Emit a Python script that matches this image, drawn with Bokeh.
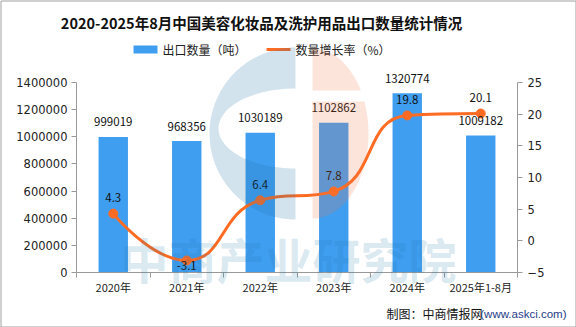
import math
import numpy as np
from bokeh.plotting import figure
from bokeh.models import Range1d, LinearAxis, FixedTicker, ColumnDataSource, BasicTickFormatter
from bokeh.core.properties import value
from bokeh.embed import file_html
from bokeh.resources import INLINE

# ---------------- data ----------------
categories = ["2020年", "2021年", "2022年", "2023年", "2024年", "2025年1-8月"]
export_volume = [999019, 968356, 1030189, 1102862, 1320774, 1009182]
growth_rate = [4.3, -3.1, 6.4, 7.8, 19.8, 20.1]
left_ticks = [0, 200000, 400000, 600000, 800000, 1000000, 1200000, 1400000]
right_ticks = [-5, 0, 5, 10, 15, 20, 25]

title_text = "2020-2025年8月中国美容化妆品及洗护用品出口数量统计情况"
bar_legend = "出口数量（吨）"
line_legend = "数量增长率（%）"
source_text = "制图：中商情报网"
source_url = "(www.askci.com)"
watermark_text = "中商产业研究院"

# ---------------- layout ----------------
W, H = 576, 327
FL, FR, FT, FB = 76, 517, 82, 272
BAR_COLOR = "#409ef0"
LINE_COLOR = "#ff6b22"
CJK = "Noto Sans CJK SC"
AX_COLOR = "#999999"
TXT_COLOR = "#222222"

n = len(categories)
xc = [i + 0.5 for i in range(n)]

p = figure(width=W, height=H, output_backend="svg", toolbar_location=None,
           x_range=Range1d(0, n), y_range=Range1d(left_ticks[0], left_ticks[-1]),
           min_border_left=FL, min_border_right=W - FR, min_border_top=FT,
           min_border_bottom=H - FB, title=None)
p.outline_line_color = None
p.xgrid.visible = False
p.ygrid.visible = False
p.background_fill_color = "white"
p.border_fill_color = "white"
p.extra_y_ranges = {"rate": Range1d(right_ticks[0], right_ticks[-1])}

px_per_x = (FR - FL) / n
lpx = (FB - FT) / (left_ticks[-1] - left_ticks[0])      # px per left unit
rpx = (FB - FT) / (right_ticks[-1] - right_ticks[0])    # px per right unit


def to_data(sx, sy):
    """canvas pixel -> (x, left-y) data coordinates"""
    return ((np.asarray(sx, dtype=float) - FL) / px_per_x,
            (FB - np.asarray(sy, dtype=float)) / lpx + left_ticks[0])


# x axis
xa = p.xaxis[0]
xa.ticker = FixedTicker(ticks=xc, minor_ticks=list(range(n + 1)))
xa.major_label_overrides = {xc[i]: categories[i] for i in range(n)}
xa.axis_line_color = AX_COLOR
xa.major_tick_line_color = None
xa.major_tick_out = 0
xa.major_tick_in = 0
xa.minor_tick_line_color = AX_COLOR
xa.minor_tick_out = 5
xa.minor_tick_in = 0
xa.major_label_standoff = 1
xa.major_label_text_font = CJK
xa.major_label_text_font_size = "11px"
xa.major_label_text_color = TXT_COLOR

# left axis
ya = p.yaxis[0]
ya.ticker = FixedTicker(ticks=left_ticks)
ya.formatter = BasicTickFormatter(use_scientific=False)
ya.axis_line_color = AX_COLOR
ya.major_tick_line_color = AX_COLOR
ya.major_tick_out = 5
ya.major_tick_in = 0
ya.minor_tick_line_color = None
ya.major_label_standoff = 4
ya.major_label_text_font = "DejaVu Sans"
ya.major_label_text_font_size = "11.5px"
ya.major_label_text_color = TXT_COLOR

# right axis
ra = LinearAxis(y_range_name="rate", ticker=FixedTicker(ticks=right_ticks))
ra.axis_line_color = AX_COLOR
ra.major_tick_line_color = AX_COLOR
ra.major_tick_out = 5
ra.major_tick_in = 0
ra.minor_tick_line_color = None
ra.major_label_standoff = 5
ra.major_label_text_font = "DejaVu Sans"
ra.major_label_text_font_size = "11.5px"
ra.major_label_text_color = TXT_COLOR
p.add_layout(ra, "right")

# ---------------- bars ----------------
p.vbar(x=xc, top=export_volume, width=0.4, fill_color=BAR_COLOR, line_color=None)

# ---------------- smoothed line (echarts-like bezier) ----------------
PX = [x * px_per_x for x in xc]
PY = [y * rpx for y in growth_rate]


def smooth_segments(px, py, smooth=0.5):
    segs = []
    cpx0, cpy0 = px[0], py[0]
    m = len(px)
    for i in range(1, m):
        x, y = px[i], py[i]
        prevX, prevY = px[i - 1], py[i - 1]
        if i == m - 1:
            cpx1, cpy1 = x, y
            nxt = (x, y)
        else:
            nextX, nextY = px[i + 1], py[i + 1]
            vx, vy = nextX - prevX, nextY - prevY
            lp = math.hypot(x - prevX, y - prevY)
            ln = math.hypot(nextX - x, nextY - y)
            r = ln / (ln + lp)
            ncx, ncy = x + vx * smooth * r, y + vy * smooth * r
            ncx = max(min(ncx, max(nextX, x)), min(nextX, x))
            ncy = max(min(ncy, max(nextY, y)), min(nextY, y))
            vx, vy = ncx - x, ncy - y
            cpx1, cpy1 = x - vx * lp / ln, y - vy * lp / ln
            cpx1 = max(min(cpx1, max(prevX, x)), min(prevX, x))
            cpy1 = max(min(cpy1, max(prevY, y)), min(prevY, y))
            vx, vy = x - cpx1, y - cpy1
            nxt = (x + vx * ln / lp, y + vy * ln / lp)
        segs.append((prevX, prevY, cpx0, cpy0, cpx1, cpy1, x, y))
        cpx0, cpy0 = nxt
    return segs


segs = smooth_segments(PX, PY)
bz = dict(x0=[], y0=[], cx0=[], cy0=[], cx1=[], cy1=[], x1=[], y1=[])
for s in segs:
    bz["x0"].append(s[0] / px_per_x); bz["y0"].append(s[1] / rpx)
    bz["cx0"].append(s[2] / px_per_x); bz["cy0"].append(s[3] / rpx)
    bz["cx1"].append(s[4] / px_per_x); bz["cy1"].append(s[5] / rpx)
    bz["x1"].append(s[6] / px_per_x); bz["y1"].append(s[7] / rpx)
p.bezier(x0="x0", y0="y0", x1="x1", y1="y1", cx0="cx0", cy0="cy0", cx1="cx1", cy1="cy1",
         source=ColumnDataSource(bz), line_color=LINE_COLOR, line_width=3, y_range_name="rate")
p.scatter(x=xc, y=growth_rate, size=9, fill_color=LINE_COLOR, line_color=LINE_COLOR,
          y_range_name="rate")

# ---------------- data labels (text glyphs, not clipped) ----------------
LBL = dict(text_align="center", text_baseline="middle", text_font=value(CJK),
           text_font_size="11.5px", text_color="#111111", level="overlay")
p.text(x=xc, y=[v + 15 / lpx for v in export_volume], text=[str(v) for v in export_volume], **LBL)
p.text(x=xc, y=[v + (16 if v >= 0 else -5) / rpx for v in growth_rate],
       text=[f"{v:.1f}" for v in growth_rate], y_range_name="rate", **LBL)


def canvas_text(sx, sy, txt, **kw):
    dx, dy = to_data(sx, sy)
    p.text(x=[float(dx)], y=[float(dy)], text=[txt], level="overlay", **kw)


# ---------------- title ----------------
canvas_text(261, 22, title_text, text_align="center", text_baseline="middle",
            text_font=value(CJK), text_font_size="14.5px", text_font_style="bold",
            text_color="#111111")

# ---------------- legend (drawn by hand) ----------------
lx0, ly0 = to_data(133, 45)
lx1, ly1 = to_data(157, 53)
p.quad(left=[float(lx0)], right=[float(lx1)], top=[float(ly0)], bottom=[float(ly1)],
       fill_color=BAR_COLOR, line_color=None, level="overlay")
canvas_text(162, 49, bar_legend, text_align="left", text_baseline="middle",
            text_font=value(CJK), text_font_size="12px", text_color=TXT_COLOR)
sx0, sy0 = to_data(266, 49)
sx1, _ = to_data(290, 49)
p.segment(x0=[float(sx0)], y0=[float(sy0)], x1=[float(sx1)], y1=[float(sy0)],
          line_color=LINE_COLOR, line_width=3, level="overlay")
mx, my = to_data(278, 49)
p.scatter(x=[float(mx)], y=[float(my)], size=9, fill_color=LINE_COLOR, line_color=LINE_COLOR,
          level="overlay")
canvas_text(295, 49, line_legend, text_align="left", text_baseline="middle",
            text_font=value(CJK), text_font_size="12px", text_color=TXT_COLOR)

# ---------------- source ----------------
canvas_text(482, 313, source_text, text_align="right", text_baseline="middle",
            text_font=value(CJK), text_font_size="12px", text_color="#111111")
canvas_text(566, 313, source_url, text_align="right", text_baseline="middle",
            text_font=value("Liberation Sans"), text_font_size="11.5px", text_color="#1f3c88")

# ---------------- watermark ----------------
WM_BLUE = "#1e73aa"
WM_ORANGE = "#ee7846"
WM_ALPHA = 0.2

t_out = np.linspace(math.pi / 2, 3 * math.pi / 2, 60)
ox, oy = 295 + 86 * np.cos(t_out), 133 - 86 * np.sin(t_out)
t_in = np.linspace(3 * math.pi / 2, math.pi / 2, 60)
ix, iy = 295 + 77 * np.cos(t_in), 128 - 40 * np.sin(t_in)
bx, by = to_data(np.concatenate([ox, ix]), np.concatenate([oy, iy]))
p.patch(bx, by, fill_color=WM_BLUE, fill_alpha=WM_ALPHA, line_color=None, level="overlay")

cx_o, cy_o, rx_o, ry_o = 312, 133, 56, 85
th1 = math.acos((cy_o - 90) / ry_o)
th2 = math.acos((cy_o - 101) / ry_o)
t1 = np.linspace(0, th1, 30)
sx1_ = np.concatenate([cx_o + rx_o * np.sin(t1), [cx_o]])
sy1_ = np.concatenate([cy_o - ry_o * np.cos(t1), [90]])
t2 = np.linspace(th2, math.pi, 50)
sx2_ = np.concatenate([[cx_o], cx_o + rx_o * np.sin(t2)])
sy2_ = np.concatenate([[101], cy_o - ry_o * np.cos(t2)])
for sx, sy in ((sx1_, sy1_), (sx2_, sy2_)):
    dx, dy = to_data(sx, sy)
    p.patch(dx, dy, fill_color=WM_ORANGE, fill_alpha=WM_ALPHA, line_color=None, level="overlay")

canvas_text(288, 257, watermark_text, text_align="center", text_baseline="middle",
            text_font=value(CJK), text_font_size="48px", text_font_style="bold",
            text_color=WM_BLUE, text_alpha=0.18)

# outer border
bl, bb = to_data(0.5, H - 0.5)
br, bt = to_data(W - 0.5, 0.5)
p.quad(left=[float(bl)], right=[float(br)], bottom=[float(bb)], top=[float(bt)],
       fill_alpha=0, line_color="#a0a0a0", line_width=1, level="overlay")

open("out.html", "w").write(file_html(p, INLINE))
